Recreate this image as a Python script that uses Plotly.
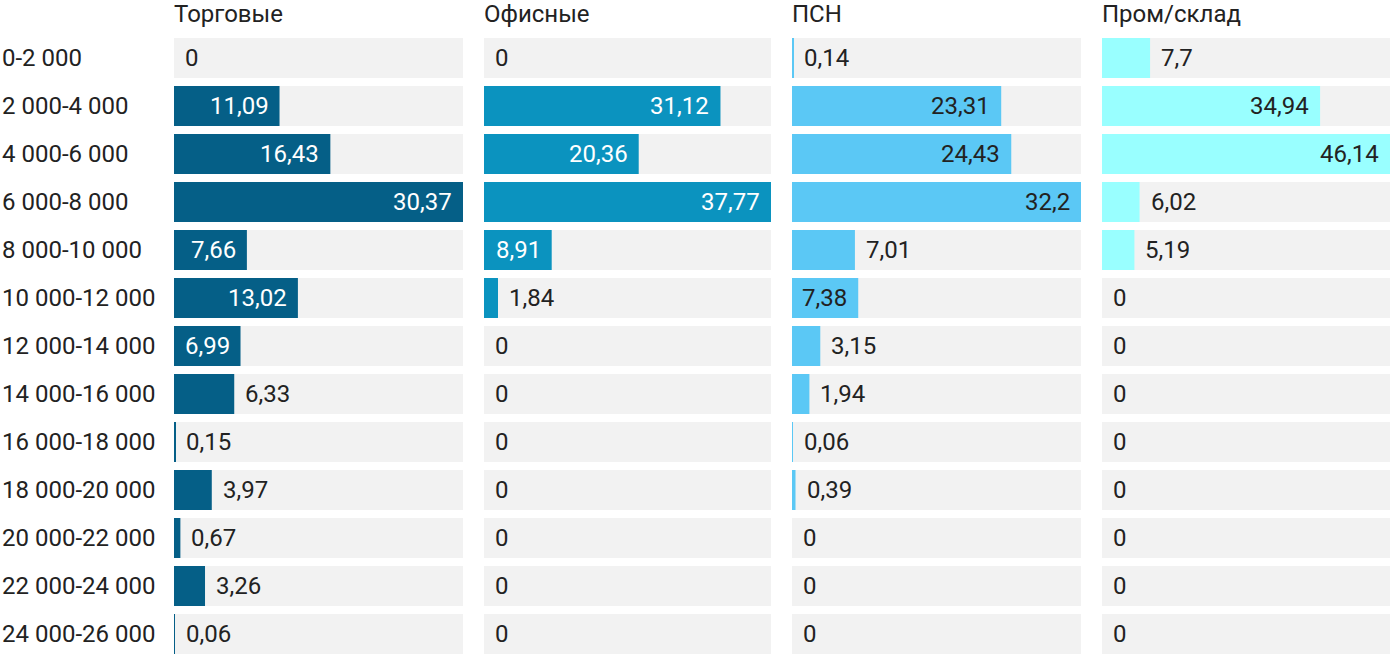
import plotly.graph_objects as go

categories = ["0-2 000", "2 000-4 000", "4 000-6 000", "6 000-8 000", "8 000-10 000",
              "10 000-12 000", "12 000-14 000", "14 000-16 000", "16 000-18 000",
              "18 000-20 000", "20 000-22 000", "22 000-24 000", "24 000-26 000"]

panel_titles = ["Торговые", "Офисные", "ПСН", "Пром/склад"]

trade = [0, 11.09, 16.43, 30.37, 7.66, 13.02, 6.99, 6.33, 0.15, 3.97, 0.67, 3.26, 0.06]
office = [0, 31.12, 20.36, 37.77, 8.91, 1.84, 0, 0, 0, 0, 0, 0, 0]
psn = [0.14, 23.31, 24.43, 32.2, 7.01, 7.38, 3.15, 1.94, 0.06, 0.39, 0, 0, 0]
industrial = [7.7, 34.94, 46.14, 6.02, 5.19, 0, 0, 0, 0, 0, 0, 0, 0]

series = [trade, office, psn, industrial]
colors = ["#055F87", "#0B93BF", "#5BC8F5", "#99FFFF"]
inside_text_colors = ["#FFFFFF", "#FFFFFF", "#222222", "#222222"]
grey = "#F2F2F2"
dark = "#222222"
FONT = "Roboto"
FS = 24

W, H = 1400, 670
domains = [(174, 463), (484, 771), (792, 1081), (1102, 1390)]

fig = go.Figure()
annotations = []
ypos = list(range(len(categories)))

for i, vals in enumerate(series):
    ax = "" if i == 0 else str(i + 1)
    mx = max(vals)
    fig.add_trace(go.Bar(
        x=[mx] * len(vals), y=ypos, orientation="h", width=0.833,
        marker=dict(color=grey, line=dict(width=0)),
        xaxis="x" + ax, yaxis="y", hoverinfo="skip", showlegend=False))
    fig.add_trace(go.Bar(
        x=vals, y=ypos, orientation="h", width=0.833,
        marker=dict(color=colors[i], line=dict(width=0)),
        xaxis="x" + ax, yaxis="y", hoverinfo="skip", showlegend=False))
    for j, v in enumerate(vals):
        label = ("%g" % v).replace(".", ",")
        inside = v / mx >= 0.225
        annotations.append(dict(
            x=v, y=j, xref="x" + ax, yref="y", text=label, showarrow=False,
            xanchor="right" if inside else "left",
            xshift=-9 if inside else 9, yanchor="middle",
            font=dict(family=FONT, size=FS,
                      color=inside_text_colors[i] if inside else dark)))
    annotations.append(dict(
        x=0, y=1, xref="x%s domain" % ax, yref="paper", text=panel_titles[i],
        showarrow=False, xanchor="left", yanchor="middle", yshift=20, xshift=-2,
        font=dict(family=FONT, size=FS, color=dark)))
    d0, d1 = domains[i]
    fig.layout["xaxis" + ax] = dict(
        domain=[d0 / W, d1 / W], range=[0, mx], visible=False,
        fixedrange=True, anchor="y")

for j, c in enumerate(categories):
    annotations.append(dict(
        x=0, y=j, xref="paper", yref="y", text=c, showarrow=False,
        xanchor="left", yanchor="middle", xshift=0,
        font=dict(family=FONT, size=FS, color=dark)))

fig.update_layout(
    width=W, height=H,
    margin=dict(l=0, r=0, t=34, b=12),
    paper_bgcolor="white", plot_bgcolor="white",
    barmode="overlay",
    yaxis=dict(range=[len(categories) - 0.5, -0.5], visible=False, fixedrange=True),
    annotations=annotations,
    font=dict(family=FONT, size=FS, color=dark),
)

fig.write_html("out.html", config={"displayModeBar": False},
               post_script="document.body.style.margin='0';document.body.style.overflow='hidden';")
